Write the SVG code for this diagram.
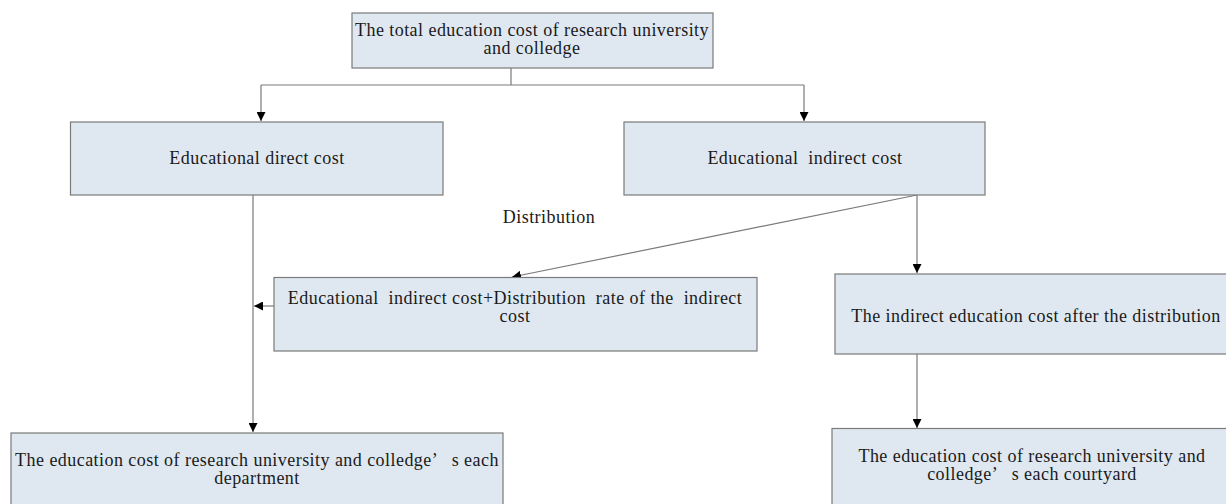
<svg xmlns="http://www.w3.org/2000/svg" width="1226" height="504" viewBox="0 0 1226 504">
  <style>
    .box { fill: #dfe8f1; stroke: #7a7a7a; stroke-width: 1.2; }
    .lbl { font-family: "Liberation Serif", "DejaVu Serif", serif; font-size: 18px; letter-spacing: 0.45px; fill: #1a1a1a; text-anchor: middle; white-space: pre; }
    .wire { fill: none; stroke: #7a7a7a; stroke-width: 1.2; }
  </style>
  <defs>
    <marker id="arrow" viewBox="0 0 10 10" refX="10" refY="5" markerWidth="9" markerHeight="9" markerUnits="userSpaceOnUse" orient="auto">
      <path d="M0,0 L10,5 L0,10 Z" fill="#000"/>
    </marker>
  </defs>
  <rect width="1226" height="504" fill="#fff"/>

  <!-- connectors -->
  <g id="connectors">
    <line class="wire" x1="511" y1="67" x2="511" y2="85"/>
    <line class="wire" x1="261" y1="85" x2="804" y2="85"/>
    <line class="wire" x1="261" y1="85" x2="261" y2="121" marker-end="url(#arrow)"/>
    <line class="wire" x1="804" y1="85" x2="804" y2="121" marker-end="url(#arrow)"/>
    <line class="wire" x1="253" y1="195" x2="253" y2="432" marker-end="url(#arrow)"/>
    <line class="wire" x1="274" y1="306" x2="254" y2="306" marker-end="url(#arrow)"/>
    <line class="wire" x1="917" y1="195" x2="512" y2="277" marker-end="url(#arrow)"/>
    <line class="wire" x1="917" y1="195" x2="917" y2="273" marker-end="url(#arrow)"/>
    <line class="wire" x1="917" y1="354" x2="917" y2="428" marker-end="url(#arrow)"/>
    <text class="lbl" x="549" y="223">Distribution</text>
  </g>

  <g id="total-cost">
    <rect class="box" x="352" y="13" width="361" height="55"/>
    <text class="lbl" x="532" y="36">The total education cost of research university</text>
    <text class="lbl" x="532" y="54">and colledge</text>
  </g>

  <g id="direct-cost">
    <rect class="box" x="70.5" y="122" width="372.5" height="73"/>
    <text class="lbl" x="257" y="164">Educational direct cost</text>
  </g>

  <g id="indirect-cost">
    <rect class="box" x="624" y="122" width="361" height="73"/>
    <text class="lbl" x="805" y="164">Educational  indirect cost</text>
  </g>

  <g id="distribution-rate">
    <rect class="box" x="274" y="277.5" width="483" height="73.5"/>
    <text class="lbl" x="515" y="304">Educational  indirect cost+Distribution  rate of the  indirect</text>
    <text class="lbl" x="515" y="322">cost</text>
  </g>

  <g id="indirect-after">
    <rect class="box" x="835" y="274" width="402" height="80"/>
    <text class="lbl" x="1036" y="322">The indirect education cost after the distribution</text>
  </g>

  <g id="department-cost">
    <rect class="box" x="11" y="433" width="492" height="80"/>
    <text class="lbl" x="257" y="466">The education cost of research university and colledge’   s each</text>
    <text class="lbl" x="257" y="484">department</text>
  </g>

  <g id="courtyard-cost">
    <rect class="box" x="832" y="428.5" width="402" height="85"/>
    <text class="lbl" x="1032" y="462">The education cost of research university and</text>
    <text class="lbl" x="1032" y="480">colledge’   s each courtyard</text>
  </g>
</svg>
